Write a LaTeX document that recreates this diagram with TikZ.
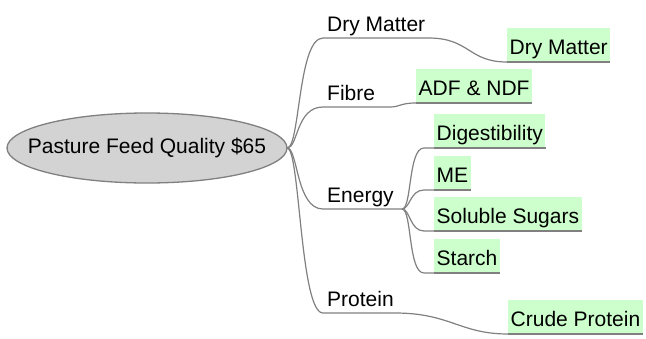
\documentclass[tikz,border=0pt]{standalone}
\usepackage{fontspec}
\setmainfont{Liberation Sans}
\definecolor{leafgreen}{RGB}{204,255,204}
\definecolor{linegray}{RGB}{128,128,128}
\definecolor{rootfill}{RGB}{211,211,211}
\begin{document}
\begin{tikzpicture}[x=1pt,y=-1pt,
  every node/.style={font=\fontsize{21}{24}\selectfont},
  conn/.style={draw=linegray, line width=1.2pt},
  rootshape/.style={fill=rootfill, draw=linegray, line width=1.3pt},
  rootnode/.style={minimum width=280pt, minimum height=70pt, inner sep=0pt},
  branchlab/.style={inner xsep=0pt, inner ysep=0pt, text depth=6pt, anchor=south west},
  leaf/.style={fill=leafgreen, inner xsep=2.5pt, inner ysep=3pt, text height=24pt, text depth=4pt, anchor=south west},
  under/.style={draw=linegray, line width=1.5pt}]
\useasboundingbox (0,0) rectangle (646,338);
% root
\coordinate (rc) at (147,148);
\path[rootshape] (rc) ellipse [x radius=140pt, y radius=35pt];
\node[rootnode] (root) at (rc) {Pasture Feed Quality \$65};
% branch labels
\node[branchlab] (dmlab) at (327,38) {Dry Matter};
\node[branchlab] (filab) at (327,107) {Fibre};
\node[branchlab] (enlab) at (327,209) {Energy};
\node[branchlab] (prlab) at (327,313) {Protein};
% leaves
\node[leaf] (dm) at (507,62) {Dry Matter};
\node[leaf] (adf) at (416,103) {ADF \& NDF};
\node[leaf] (dig) at (434,148) {Digestibility};
\node[leaf] (me) at (434,190) {ME};
\node[leaf] (sug) at (434,231) {Soluble Sugars};
\node[leaf] (sta) at (434,273) {Starch};
\node[leaf] (cp) at (508,334) {Crude Protein};
\coordinate (ej) at (402,209);
% root connectors
\draw[conn] (root.east) .. controls (300,148) and (298,38) .. ([xshift=-4pt]dmlab.south west) -- (dmlab.south east) -- ++(3,0) .. controls (470,38) and (468,62) .. (dm.south west);
\draw[conn] (root.east) .. controls (298,148) and (296,107) .. ([xshift=-4pt]filab.south west) -- ++(67,0) .. controls (400,107) and (400,103) .. (adf.south west);
\draw[conn] (root.east) .. controls (298,148) and (296,209) .. ([xshift=-4pt]enlab.south west) -- (ej);
\draw[conn] (root.east) .. controls (300,148) and (300,313) .. ([xshift=-4pt]prlab.south west) -- ++(72,0) .. controls (450,313) and (460,334) .. (cp.south west);
% energy children
\draw[conn] (ej) .. controls (412,209) and (408,148) .. (424,148) -- (dig.south west);
\draw[conn] (ej) .. controls (410,209) and (410,190) .. (424,190) -- (me.south west);
\draw[conn] (ej) .. controls (410,209) and (410,231) .. (424,231) -- (sug.south west);
\draw[conn] (ej) .. controls (412,209) and (408,273) .. (424,273) -- (sta.south west);
% underlines
\foreach \n in {dm,adf,dig,me,sug,sta,cp}{\draw[under] (\n.south west) -- (\n.south east);}
\end{tikzpicture}
\end{document}
